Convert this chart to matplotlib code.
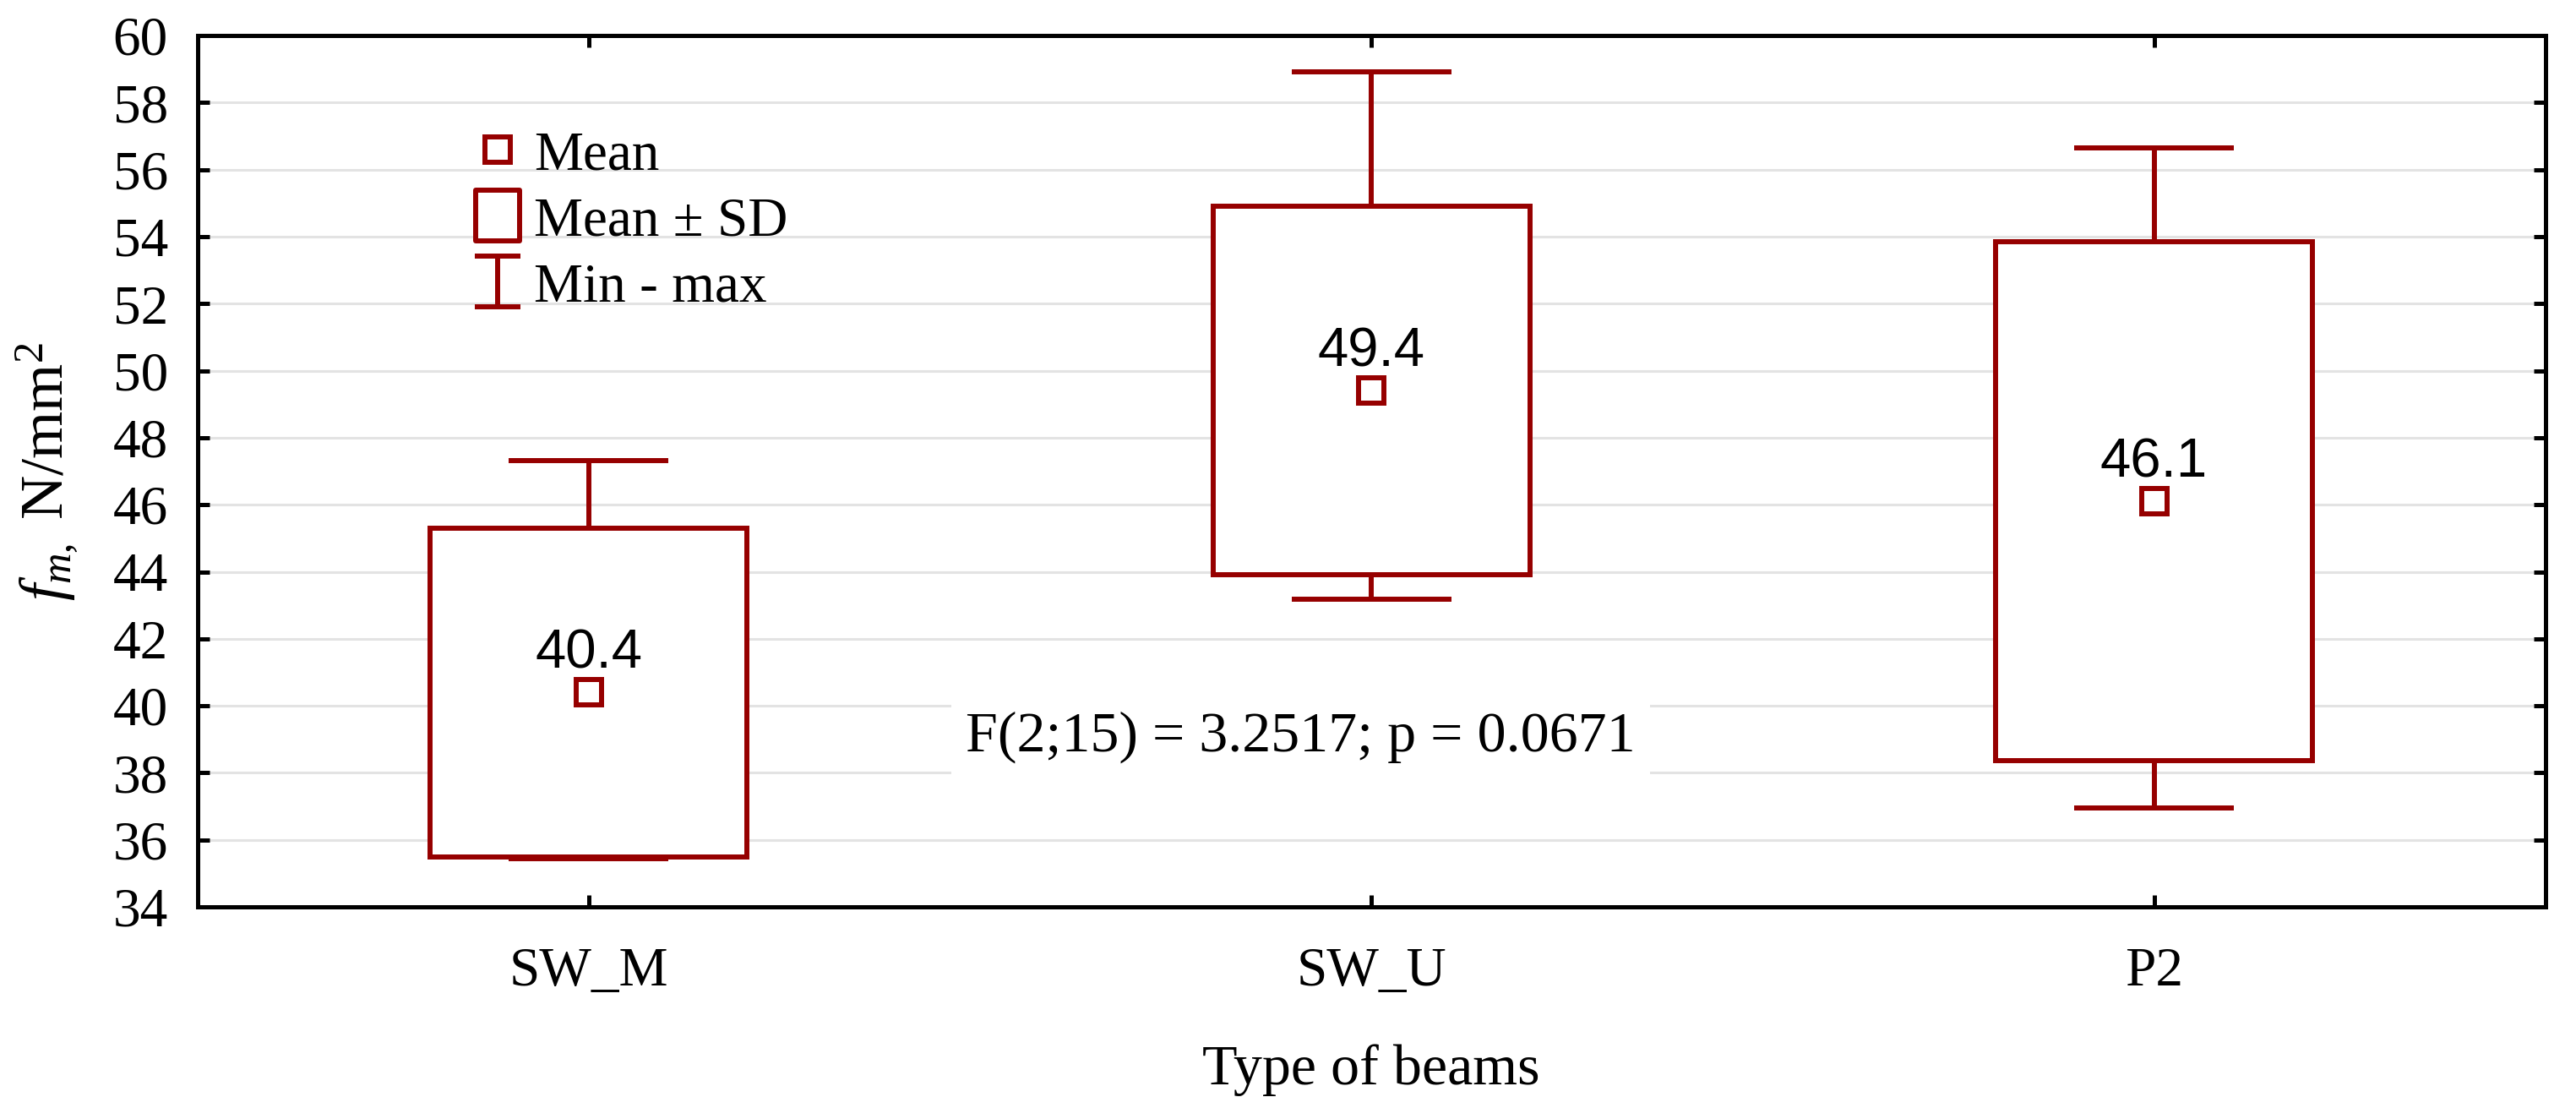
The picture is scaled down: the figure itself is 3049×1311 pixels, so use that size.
import matplotlib
matplotlib.use("Agg")
import matplotlib.pyplot as plt
from matplotlib.lines import Line2D
from matplotlib.path import Path

# data
groups = ["SW_M", "SW_U", "P2"]
means = [40.4, 49.4, 46.1]
sds = [4.9, 5.5, 7.74]
mins = [35.45, 43.17, 36.94]
maxs = [47.31, 58.92, 56.64]
yticks = list(range(34, 61, 2))
stat_text = "F(2;15) = 3.2517; p = 0.0671"

red = "#960000"
serif = "Liberation Serif"
sans = "Liberation Sans"
fs = 47
lw = 4.3

plt.rcParams["font.family"] = [serif]
plt.rcParams["mathtext.fontset"] = "custom"
plt.rcParams["mathtext.rm"] = serif
plt.rcParams["mathtext.it"] = serif + ":italic"

fig = plt.figure(figsize=(30.49, 13.11), dpi=100)
ax = fig.add_axes([0.0766, 0.1815, 0.9115, 0.7864])

x = list(range(len(groups)))
lows = [m - s for m, s in zip(means, sds)]
highs = [m + s for m, s in zip(means, sds)]

# mean +- SD boxes
ax.bar(x, [2 * s for s in sds], bottom=lows, width=0.405, color="white",
       edgecolor=red, linewidth=lw, zorder=3)
# whiskers and caps (min - max)
ax.vlines(x, highs, maxs, color=red, linewidth=lw, zorder=3)
ax.vlines(x, mins, lows, color=red, linewidth=lw, zorder=3)
ax.hlines(maxs, [i - 0.102 for i in x], [i + 0.102 for i in x], color=red, linewidth=lw, zorder=3)
ax.hlines(mins, [i - 0.102 for i in x], [i + 0.102 for i in x], color=red, linewidth=lw, zorder=3)
# means
ax.plot(x, means, linestyle="none", marker="s", markersize=21.6, markerfacecolor="white",
        markeredgecolor=red, markeredgewidth=lw, zorder=4)
for xi, m in zip(x, means):
    ax.annotate(f"{m:.1f}", (xi, m), xytext=(0, 21), textcoords="offset points",
                ha="center", va="baseline", fontsize=fs, family=sans, zorder=5)

ax.text(0.91, 38.66, stat_text, ha="center", va="baseline", fontsize=fs + 2, zorder=6,
        family=serif,
        bbox=dict(boxstyle="square,pad=0.25", facecolor="white", edgecolor="none"))

ax.set_xlim(-0.5, 2.5)
ax.set_ylim(34, 60)
ax.set_yticks(yticks)
ax.set_yticklabels([str(v) for v in yticks], family=serif, fontsize=fs)
ax.set_xticks(x)
ax.set_xticklabels(groups, family=serif, fontsize=fs)
ax.yaxis.grid(True, color="#e3e3e3", linewidth=2.2, zorder=0)
ax.set_axisbelow(True)
ax.tick_params(axis="both", direction="in", length=10, width=3.6,
               top=True, right=True)
ax.tick_params(axis="y", pad=25)
ax.tick_params(axis="x", pad=34)
for sp in ax.spines.values():
    sp.set_linewidth(3.6)

ax.set_xlabel("Type of beams", fontsize=fs + 2, labelpad=40, family=serif)
ax.set_ylabel(r"$f_{m,}$ N/mm$^2$", fontsize=fs + 5, family=serif)
ax.yaxis.set_label_coords(-0.05, 0.5)

# legend
box_path = Path([(-0.43, -0.5), (0.43, -0.5), (0.43, 0.5), (-0.43, 0.5), (-0.43, -0.5)],
                [Path.MOVETO, Path.LINETO, Path.LINETO, Path.LINETO, Path.CLOSEPOLY])
whisk_path = Path([(-0.46, 0.5), (0.46, 0.5), (0, 0.5), (0, -0.5), (-0.46, -0.5), (0.46, -0.5)],
                  [Path.MOVETO, Path.LINETO, Path.MOVETO, Path.LINETO, Path.MOVETO, Path.LINETO])
handles = [
    Line2D([], [], linestyle="none", marker="s", markersize=21.6, markerfacecolor="white",
           markeredgecolor=red, markeredgewidth=lw),
    Line2D([], [], linestyle="none", marker=box_path, markersize=43, markerfacecolor="white",
           markeredgecolor=red, markeredgewidth=lw),
    Line2D([], [], linestyle="none", marker=whisk_path, markersize=43, markerfacecolor="none",
           markeredgecolor=red, markeredgewidth=lw),
]
ax.legend(handles, ["Mean", "Mean \u00b1 SD", "Min - max"], loc="upper left",
          bbox_to_anchor=(0.116, 0.891), frameon=False, borderpad=0,
          borderaxespad=0, handlelength=1.0, handletextpad=0.16, labelspacing=0.28,
          prop={"family": serif, "size": fs})

fig.savefig("out.png", dpi=100)
